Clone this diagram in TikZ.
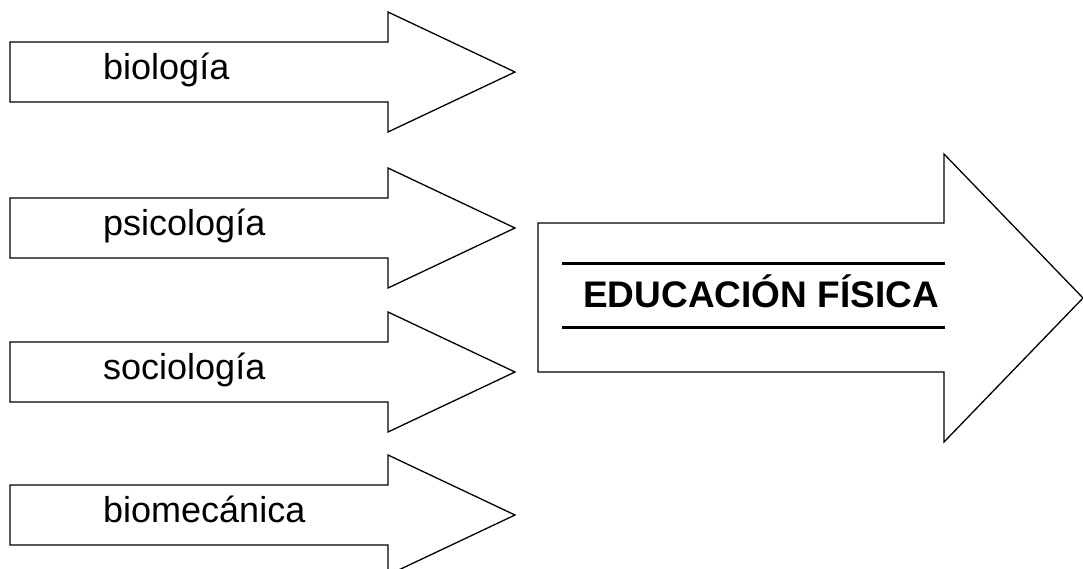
\documentclass[tikz,border=0pt]{standalone}
\usepackage{fontspec}
\setmainfont{Liberation Sans}
\tikzstyle{blockarrow}=[draw=black, line width=1.3pt, fill=white, line join=miter]
\tikzstyle{field}=[anchor=base west, inner sep=0pt, font=\fontsize{36}{43}\selectfont]
\tikzstyle{title}=[field, font=\fontsize{37}{44}\selectfont\bfseries]
\tikzstyle{rule}=[line width=3pt]
\begin{document}
\begin{tikzpicture}[x=1pt, y=-1pt]
	\useasboundingbox (0,0) rectangle (1083,568);
	% feeding arrows
	\foreach \c/\name/\txt in {72/bio/biología, 228/psi/psicología, 372/soc/sociología, 515/mec/biomecánica}{
		\draw[blockarrow] (10,\c-30) -- (388,\c-30) -- (388,\c-60) -- (515,\c) -- (388,\c+60) -- (388,\c+30) -- (10,\c+30) -- cycle;
		\node (\name) at (103,\c+7) [field] {\txt};
	}
	% main arrow
	\draw[blockarrow] (538,223) -- (944,223) -- (944,154) -- (1083,298) -- (944,442) -- (944,372) -- (538,372) -- cycle;
	\node (ef) at (583,307) [title] {EDUCACIÓN FÍSICA};
	\coordinate (topL) at (562,263);
	\coordinate (topR) at (945,263);
	\coordinate (botL) at (562,327);
	\coordinate (botR) at (945,327);
	\draw[rule] (topL) -- (topR);
	\draw[rule] (botL) -- (botR);
\end{tikzpicture}
\end{document}
